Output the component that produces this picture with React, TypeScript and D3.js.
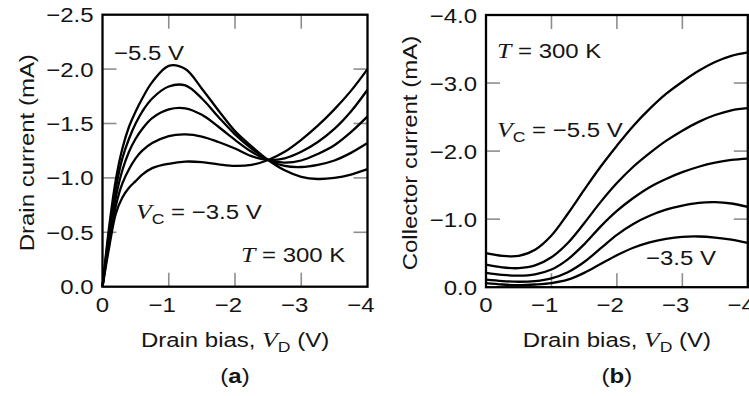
import React from "react";
import * as d3 from "d3";

// ---------- DATA ----------
// Panel (a): drain current vs drain bias for collector voltages
const vdA = [0, -0.1, -0.2, -0.3, -0.4, -0.5, -0.6, -0.75, -1.0, -1.25, -1.5, -1.75, -2.0, -2.25, -2.5, -2.75, -3.0, -3.25, -3.5, -3.75, -4.0];
const idA_m55 = [0, -0.55, -0.98, -1.27, -1.47, -1.61, -1.73, -1.88, -2.03, -2.0, -1.82, -1.62, -1.43, -1.29, -1.165, -1.07, -1.01, -0.99, -1.0, -1.03, -1.08];
const idA_m50 = [0, -0.5, -0.9, -1.18, -1.36, -1.5, -1.61, -1.73, -1.84, -1.85, -1.73, -1.56, -1.4, -1.27, -1.165, -1.11, -1.1, -1.12, -1.16, -1.23, -1.32];
const idA_m45 = [0, -0.45, -0.82, -1.07, -1.24, -1.36, -1.45, -1.55, -1.63, -1.64, -1.58, -1.47, -1.35, -1.24, -1.165, -1.14, -1.16, -1.22, -1.3, -1.42, -1.565];
const idA_m40 = [0, -0.4, -0.74, -0.95, -1.08, -1.18, -1.25, -1.32, -1.385, -1.4, -1.38, -1.33, -1.27, -1.2, -1.165, -1.18, -1.24, -1.33, -1.45, -1.61, -1.81];
const idA_m35 = [0, -0.36, -0.67, -0.82, -0.91, -0.97, -1.03, -1.09, -1.13, -1.15, -1.145, -1.125, -1.11, -1.12, -1.165, -1.24, -1.35, -1.48, -1.63, -1.8, -2.0];

// Panel (b): collector current vs drain bias
const vdB = [0, -0.25, -0.5, -0.75, -1.0, -1.25, -1.5, -1.75, -2.0, -2.25, -2.5, -2.75, -3.0, -3.25, -3.5, -3.75, -4.0];
const icB_m55 = [-0.5, -0.46, -0.46, -0.55, -0.76, -1.08, -1.43, -1.77, -2.08, -2.37, -2.62, -2.84, -3.02, -3.18, -3.31, -3.4, -3.45];
const icB_m50 = [-0.33, -0.29, -0.28, -0.32, -0.44, -0.65, -0.94, -1.25, -1.53, -1.77, -1.97, -2.15, -2.3, -2.43, -2.53, -2.6, -2.63];
const icB_m45 = [-0.21, -0.18, -0.17, -0.19, -0.26, -0.41, -0.63, -0.89, -1.12, -1.31, -1.47, -1.59, -1.69, -1.77, -1.83, -1.87, -1.89];
const icB_m40 = [-0.11, -0.09, -0.08, -0.09, -0.13, -0.22, -0.37, -0.57, -0.77, -0.93, -1.05, -1.14, -1.2, -1.24, -1.25, -1.23, -1.18];
const icB_m35 = [-0.06, -0.04, -0.03, -0.04, -0.06, -0.11, -0.21, -0.34, -0.47, -0.58, -0.66, -0.71, -0.74, -0.745, -0.73, -0.7, -0.65];

const xTicks = [0, -1, -2, -3, -4];
const xTickLabels = ["0", "\u22121", "\u22122", "\u22123", "\u22124"];
const yTicksA = [0, -0.5, -1.0, -1.5, -2.0, -2.5];
const yTickLabelsA = ["0.0", "\u22120.5", "\u22121.0", "\u22121.5", "\u22122.0", "\u22122.5"];
const yTicksB = [0, -1, -2, -3, -4];
const yTickLabelsB = ["0.0", "\u22121.0", "\u22122.0", "\u22123.0", "\u22124.0"];

const seriesA = [idA_m55, idA_m50, idA_m45, idA_m40, idA_m35];
const seriesB = [icB_m55, icB_m50, icB_m45, icB_m40, icB_m35];

// ---------- STYLE ----------
const SANS = "'Liberation Sans', Arial, Helvetica, sans-serif";
const SERIF = "'Liberation Serif', 'Times New Roman', serif";
const FS = 20.5;
const SX = 1.17;
const TXT = "#151515";

function Txt({ x, y, anchor = "start", rotate = 0, size = FS, weight = "normal", children }: any) {
  const tr = `translate(${x},${y})${rotate ? ` rotate(${rotate})` : ""} scale(${SX},1)`;
  return (
    <text transform={tr} textAnchor={anchor} fontFamily={SANS} fontSize={size} fontWeight={weight} fill={TXT}>
      {children}
    </text>
  );
}

function Ital({ children }: any) {
  return (
    <tspan fontFamily={SERIF} fontStyle="italic" fontSize={FS + 1.5}>
      {children}
    </tspan>
  );
}

function Panel({ left, top, right, bottom, yDomain, yTicks, yLabels, series, xs, title, tag }: any) {
  const x = d3.scaleLinear().domain([0, -4]).range([left, right]);
  const y = d3.scaleLinear().domain(yDomain).range([bottom, top]);
  const line = d3
    .line<[number, number]>()
    .x((d) => x(d[0]))
    .y((d) => y(d[1]))
    .curve(d3.curveCatmullRom.alpha(0.5));
  const TL = 14;
  const tickStyle = { stroke: "#8e8e8e", strokeWidth: 1.6 };
  const innerX = xTicks.slice(1, -1);
  const innerY = yTicks.slice(1, -1);
  const cx = (left + right) / 2;
  const cy = (top + bottom) / 2;
  return (
    <g>
      {innerX.map((t: number) => (
        <g key={"xt" + t}>
          <line x1={x(t)} x2={x(t)} y1={bottom} y2={bottom - TL} {...tickStyle} />
          <line x1={x(t)} x2={x(t)} y1={top} y2={top + TL} {...tickStyle} />
        </g>
      ))}
      {innerY.map((t: number) => (
        <g key={"yt" + t}>
          <line x1={left} x2={left + TL} y1={y(t)} y2={y(t)} {...tickStyle} />
          <line x1={right} x2={right - TL} y1={y(t)} y2={y(t)} {...tickStyle} />
        </g>
      ))}
      {series.map((s: number[], i: number) => (
        <path
          key={i}
          d={line(xs.map((v: number, j: number) => [v, s[j]] as [number, number])) || ""}
          fill="none"
          stroke="#000"
          strokeWidth={2.3}
          strokeLinejoin="round"
        />
      ))}
      <rect x={left} y={top} width={right - left} height={bottom - top} fill="none" stroke="#000" strokeWidth={2.3} />
      {xTicks.map((t: number, i: number) => (
        <Txt key={"xl" + t} x={x(t) + (t === 0 ? 0 : 7)} y={bottom + 25} anchor={t === 0 ? "middle" : "end"}>
          {xTickLabels[i]}
        </Txt>
      ))}
      {yTicks.map((t: number, i: number) => (
        <Txt key={"yl" + t} x={left - 9} y={y(t) + 7.5} anchor="end">
          {yLabels[i]}
        </Txt>
      ))}
      <Txt x={left - 69} y={cy + 2} anchor="middle" rotate={-90}>
        {title}
      </Txt>
      <Txt x={cx} y={bottom + 60}>
        <tspan textAnchor="middle">
          Drain bias, <Ital>V</Ital>
          <tspan fontSize={15} dy={5}>D</tspan>
          <tspan dy={-5}> (V)</tspan>
        </tspan>
      </Txt>
      <Txt x={cx} y={bottom + 96} anchor="middle">
        (<tspan fontWeight="bold">{tag}</tspan>)
      </Txt>
    </g>
  );
}

export default function App() {
  return (
    <div style={{ position: "fixed", left: 0, top: 0, width: 749, height: 396, background: "#fff" }}>
      <svg width={749} height={396} style={{ display: "block" }}>
        <rect width={749} height={396} fill="#fff" />
        <Panel
          left={102.5}
          top={14.7}
          right={367.5}
          bottom={286.7}
          yDomain={[0, -2.5]}
          yTicks={yTicksA}
          yLabels={yTickLabelsA}
          series={seriesA}
          xs={vdA}
          title="Drain current (mA)"
          tag="a"
        />
        <Panel
          left={486}
          top={15}
          right={747.8}
          bottom={287.2}
          yDomain={[0, -4]}
          yTicks={yTicksB}
          yLabels={yTickLabelsB}
          series={seriesB}
          xs={vdB}
          title="Collector current (mA)"
          tag="b"
        />
        {/* Panel (a) annotations */}
        <Txt x={114} y={60}>{"\u22125.5 V"}</Txt>
        <Txt x={136} y={219}>
          <Ital>V</Ital>
          <tspan fontSize={15} dy={5}>C</tspan>
          <tspan dy={-5}>{" = \u22123.5 V"}</tspan>
        </Txt>
        <Txt x={241} y={262}>
          <Ital>T</Ital>
          {" = 300 K"}
        </Txt>
        {/* Panel (b) annotations */}
        <Txt x={497} y={58}>
          <Ital>T</Ital>
          {" = 300 K"}
        </Txt>
        <Txt x={497} y={137}>
          <Ital>V</Ital>
          <tspan fontSize={15} dy={5}>C</tspan>
          <tspan dy={-5}>{" = \u22125.5 V"}</tspan>
        </Txt>
        <Txt x={646} y={265}>{"\u22123.5 V"}</Txt>
      </svg>
    </div>
  );
}
